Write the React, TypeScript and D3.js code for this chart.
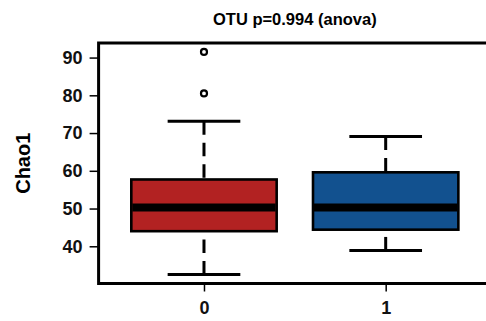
import { useEffect, useRef } from "react";
import * as d3 from "d3";

const groups = ["0", "1"];
const whiskerLow = [32.5, 38.9];
const q1 = [44.0, 44.4];
const medians = [50.3, 50.3];
const q3 = [57.7, 59.6];
const whiskerHigh = [73.1, 69.1];
const outliers = [[91.5, 80.5], []];
const colors = ["#B22222", "#12518F"];
const yTicks = [40, 50, 60, 70, 80, 90];

const width = 486;
const height = 321;
const title = "OTU p=0.994 (anova)";
const yLabel = "Chao1";

const App = () => {
    const svgRef = useRef<SVGSVGElement>(null);

    useEffect(() => {
        if (!svgRef.current) return;
        const svg = d3.select(svgRef.current);
        svg.selectAll("*").remove();

        const font = "'Liberation Sans', Arial, Helvetica, sans-serif";
        const top = 43, bottom = 283.5, left = 98.6;

        // R-style 4% range extension
        const all = [...whiskerLow, ...whiskerHigh, ...outliers.flat()];
        const lo = d3.min(all) as number, hi = d3.max(all) as number;
        const pad = (hi - lo) * 0.04;
        const y = d3.scaleLinear().domain([lo - pad, hi + pad]).range([bottom, top]);

        const unit = 181.7;
        const x = d3.scaleLinear().domain([0.42, 2.58]).range([left, left + 2.16 * unit]);

        const g = svg.append("g");

        groups.forEach((name, i) => {
            const cx = x(i + 1);
            const half = 0.4 * unit;
            const capHalf = half / 2;

            // whiskers drawn from the end toward the box
            [[whiskerLow[i], q1[i]], [whiskerHigh[i], q3[i]]].forEach(([a, b]) => {
                g.append("line")
                    .attr("x1", cx).attr("x2", cx)
                    .attr("y1", y(a)).attr("y2", y(b))
                    .attr("stroke", "#000")
                    .attr("stroke-width", 3)
                    .attr("stroke-dasharray", "13.5 8");
                g.append("line")
                    .attr("x1", cx - capHalf).attr("x2", cx + capHalf)
                    .attr("y1", y(a)).attr("y2", y(a))
                    .attr("stroke", "#000")
                    .attr("stroke-width", 3);
            });

            g.append("rect")
                .attr("x", cx - half)
                .attr("width", 2 * half)
                .attr("y", y(q3[i]))
                .attr("height", y(q1[i]) - y(q3[i]))
                .attr("fill", colors[i])
                .attr("stroke", "#000")
                .attr("stroke-width", 2.6);

            g.append("line")
                .attr("x1", cx - half + 1).attr("x2", cx + half - 1)
                .attr("y1", y(medians[i])).attr("y2", y(medians[i]))
                .attr("stroke", "#000")
                .attr("stroke-width", 8);

            g.selectAll(null)
                .data(outliers[i])
                .enter()
                .append("circle")
                .attr("cx", cx)
                .attr("cy", d => y(d))
                .attr("r", 3)
                .attr("fill", "none")
                .attr("stroke", "#000")
                .attr("stroke-width", 2.2);
        });

        // frame
        svg.append("rect")
            .attr("x", left)
            .attr("y", top)
            .attr("width", x(2.58) - left)
            .attr("height", bottom - top)
            .attr("fill", "none")
            .attr("stroke", "#000")
            .attr("stroke-width", 3);

        const yAxis = svg.append("g")
            .attr("transform", `translate(${left},0)`)
            .call(d3.axisLeft(y).tickValues(yTicks).tickSize(9).tickPadding(7).tickFormat(d3.format("d")));
        yAxis.select(".domain").remove();
        yAxis.selectAll("line").attr("stroke-width", 1.5);
        yAxis.selectAll("text")
            .style("font-family", font)
            .style("font-size", "18px")
            .style("font-weight", "bold")
            .attr("fill", "#111");

        const xAxis = svg.append("g")
            .attr("transform", `translate(0,${bottom})`)
            .call(d3.axisBottom(x).tickValues([1, 2]).tickSize(8).tickPadding(10).tickFormat((_, i) => groups[i]));
        xAxis.select(".domain").remove();
        xAxis.selectAll("line").attr("stroke-width", 1.5);
        xAxis.selectAll("text")
            .style("font-family", font)
            .style("font-size", "18px")
            .style("font-weight", "bold")
            .attr("fill", "#111");

        svg.append("text")
            .attr("x", (left + x(2.58)) / 2)
            .attr("y", 25)
            .attr("text-anchor", "middle")
            .style("font-family", font)
            .style("font-size", "16.5px")
            .style("font-weight", "bold")
            .text(title);

        svg.append("text")
            .attr("transform", `translate(30,${(top + bottom) / 2}) rotate(-90)`)
            .attr("text-anchor", "middle")
            .style("font-family", font)
            .style("font-size", "20px")
            .style("font-weight", "bold")
            .text(yLabel);
    }, []);

    return (
        <svg
            ref={svgRef}
            width={width}
            height={height}
            style={{ position: "absolute", left: 0, top: 0, background: "#fff" }}
        />
    );
};

export default App;
